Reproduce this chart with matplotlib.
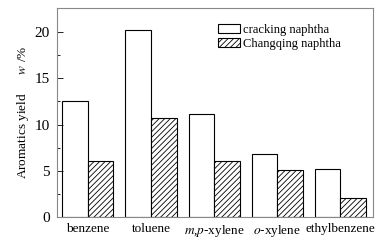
import numpy as np
import matplotlib
matplotlib.use("Agg")
import matplotlib.pyplot as plt

plt.rcParams['font.family'] = ['Liberation Serif', 'DejaVu Serif']
plt.rcParams['mathtext.fontset'] = 'stix'
plt.rcParams['hatch.linewidth'] = 0.6

categories = ['benzene', 'toluene', r'$m$,$p$-xylene', r'$o$-xylene', 'ethylbenzene']
cracking = [12.5, 20.2, 11.1, 6.8, 5.2]
changqing = [6.1, 10.7, 6.1, 5.1, 2.1]

fig = plt.figure(figsize=(3.86, 2.4), dpi=100)
ax = fig.add_axes([57/386, 1 - 217/240, 316/386, 209/240])

x = np.arange(len(categories))
w = 0.405
ax.bar(x - w/2, cracking, w, color='white', edgecolor='black', lw=0.8,
       label='cracking naphtha')
ax.bar(x + w/2, changqing, w, color='white', edgecolor='black', lw=0.8,
       hatch='//////', label='Changqing naphtha')

ax.set_xlim(-0.49, 4.52)
ax.set_ylim(0, 22.6)
ax.set_xticks(x)
ax.set_xticklabels(categories, fontsize=9.5)
ax.tick_params(axis='x', length=0, pad=4)
ax.set_yticks([0, 5, 10, 15, 20])
ax.set_yticks(np.arange(2.5, 22.5, 5), minor=True)
ax.tick_params(axis='y', direction='in', labelsize=11, length=4, width=0.6, pad=5)
ax.tick_params(axis='y', which='minor', direction='in', length=2, width=0.6)
for s in ax.spines.values():
    s.set_color('#888888')
    s.set_linewidth(0.8)

ax.set_ylabel(r'Aromatics yield      $w$ /%', fontsize=9.5, labelpad=3)
ax.legend(loc='upper left', bbox_to_anchor=(0.51, 0.925), frameon=False,
          fontsize=9, handlelength=1.75, handleheight=0.7, labelspacing=0.15,
          handletextpad=0.25, borderaxespad=0, borderpad=0)

fig.savefig('out.png', dpi=100)
